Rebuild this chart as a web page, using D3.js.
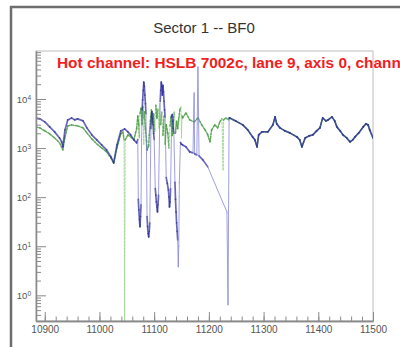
<!DOCTYPE html>
<html><head><meta charset="utf-8">
<script src="https://cdn.jsdelivr.net/npm/d3@7"></script>
<style>body{margin:0;background:#fff}svg{display:block}</style>
</head><body><svg id="c" width="400" height="347"></svg>
<script>
const chartTitle = "Sector 1 -- BF0";
const annotation = "Hot channel: HSLB 7002c, lane 9, axis 0, channel 0";
const xTickValues = [10900, 11000, 11100, 11200, 11300, 11400, 11500];
const yTickValues = [1, 10, 100, 1000, 10000];

const blueX = [10884,10891,10900,10909,10918,10927,10931,10933,10937,10942,10949,10955,10960,10970,10977,10986,10995,11004,11013,11021,11026,11032,11039,11046,11052,11057,11063,11068,
11070,11071,11072,11073,11074,11075,11076,11077,11078,11079,11080,11081,11082,11083,11084,11085,11086,11087,11088,11089,11090,11091,11092,11094,11095,11096,11097,11098,11099,11100,11102,11103,11104,11105,11106,11107,11108,11110,11111,11112,11113,11114,11115,11116,11117,11118,11119,11120,11122,11124,11126,11127,11128,11129,11130,11132,11133,11134,11135,11136,11138,11139,11140,11141,11142,11143,11144,11145,11146,11148,11150,
11152,11158,11165,11171,11173,11174,11178,11180,11182,11189,11198,11233,11235,11237,
11238,11249,11262,11271,11280,11284,11288,11291,11297,11308,11317,11321,11324,11330,11339,11348,11361,11366,11370,11376,11383,11390,11397,11403,11408,11414,11418,11425,11430,11434,11440,11445,11452,11458,11463,11467,11474,11482,11487,11491,11494,11500];
const blueY = [4120,3940,3420,2700,2140,1610,1340,1060,2350,3750,4120,3750,3940,3580,2580,1860,1470,1160,919,662,500,1160,2240,2460,2140,1860,1470,1280,
1500,90,55,35,25,40,70,1500,6000,9600,15000,22000,18000,12000,8000,5000,800,40,25,18,15.5,20,30,2500,4500,5500,4000,3000,2000,1500,150,110,80,63,50,70,110,3000,9000,15000,22000,18000,12000,19000,14000,9000,6000,4300,250,190,140,100,63,80,150,4300,4800,3500,2500,2000,200,90,50,30,20,13.5,3.8,10,200,1300,1200,
1160,1060,837,800,13300,762,727,45100,694,575,414,50,0.64,4120,
4120,3580,2970,2350,1690,1470,1060,1860,2140,2140,2970,4320,3110,2580,2240,2040,1690,1470,1060,1610,1770,1860,2240,2580,4120,3580,3750,4320,3580,2700,2240,1860,1610,1340,1470,1690,2040,2700,3110,2970,2350,1610];

const greenX = [10884,10891,10900,10909,10918,10927,10933,10937,10942,10949,10960,10970,10977,10986,10995,11004,11013,11021,11026,11032,11039,11043,11045,11046,11047,11052,11057,11063,11066,
11068,11070,11072,11073,11074,11076,11078,11079,11080,11081,11082,11084,11086,11087,11088,11090,11091,11093,11095,11097,11099,11101,11103,11105,11107,11109,11110,11112,11114,11116,11118,11120,11122,11125,11127,11129,11131,11133,11135,11137,11139,11141,11143,11145,11147,11149,11150,11151,
11152,11158,11165,11173,11180,11187,11193,11198,11202,11205,11211,11216,11220,11224,11226,11227,11231,11236,
11238,11249,11262,11271,11280,11284,11288,11291,11297,11308,11317,11321,11324,11330,11339,11348,11361,11366,11370,11376,11383,11390,11397,11403,11408,11414,11418,11425,11430,11434,11440,11445,11452,11458,11463,11467,11474,11482,11487,11491,11494,11500];
const greenY = [2700,2580,2240,1950,1610,1280,919,1690,2830,2970,2830,2580,2040,1540,1220,1010,837,632,500,1010,1950,2140,1470,0.2,1470,1860,1690,1470,2040,
2500,4500,3000,1600,5000,6500,3000,7000,4000,1200,5500,2500,1400,900,1000,1100,1800,3500,6000,3200,5000,2200,7500,4000,6500,2500,8000,3000,5500,1800,4500,1200,3000,2000,1000,2800,4500,1800,3500,5500,2000,3500,2500,4000,6000,7000,1600,4500,
4120,5210,3750,3420,4120,2970,2350,1860,1340,2350,2970,2580,3420,3940,360,3750,4120,3750,
4120,3580,2970,2350,1690,1470,1060,1860,2140,2140,2970,4320,3110,2580,2240,2040,1690,1470,1060,1610,1770,1860,2240,2580,4120,3580,3750,4320,3580,2700,2240,1860,1610,1340,1470,1690,2040,2700,3110,2970,2350,1610];

const svg = d3.select("#c");
const L = 36, R = 373, T = 51, B = 321;
const x = d3.scaleLinear().domain([10884, 11500]).range([L, R]);
const y = d3.scaleLog().domain([0.3, 95000]).range([B, T]);

svg.append("rect").attr("width", 400).attr("height", 347).attr("fill", "#fff");
svg.append("path").attr("d", "M11,347V7H400").attr("fill", "none").attr("stroke", "#6e6e6e").attr("stroke-width", 2.5);

svg.append("text").attr("x", 204).attr("y", 33).attr("text-anchor", "middle")
  .attr("font-family", "Liberation Sans, Arial, sans-serif").attr("font-size", 15).attr("fill", "#333")
  .text(chartTitle);

svg.append("rect").attr("x", L).attr("y", T).attr("width", R - L).attr("height", B - T)
  .attr("fill", "none").attr("stroke", "#bdbdbd").attr("stroke-width", 1);

svg.append("clipPath").attr("id", "clip").append("rect").attr("x", L).attr("y", T).attr("width", R - L).attr("height", B - T);
const plot = svg.append("g").attr("clip-path", "url(#clip)");

function drawSeries(xs, ys, dark, light, width, dash, opacity) {
  const pts = xs.map((v, i) => [x(v), y(ys[i])]);
  const segs = d3.pairs(pts);
  const len = d => Math.hypot(d[1][0] - d[0][0], d[1][1] - d[0][1]);
  plot.append("g").selectAll("line").data(segs).join("line")
    .attr("x1", d => d[0][0]).attr("y1", d => d[0][1])
    .attr("x2", d => d[1][0]).attr("y2", d => d[1][1])
    .attr("stroke", d => len(d) > 20 ? light : dark)
    .attr("stroke-width", d => len(d) > 20 ? 1 : width)
    .attr("stroke-dasharray", dash)
    .attr("stroke-opacity", opacity)
    .attr("stroke-linecap", "round");
}
drawSeries(greenX, greenY, "#4f9e48", "#9fd394", 1.5, "2,1.5", 0.9);
drawSeries(blueX, blueY, "#2c2c9c", "#7a7ad6", 1.7, null, 0.72);

const axisColor = "#8a8a8a";
const fontFam = "Liberation Sans, Arial, sans-serif";
const xMinor = d3.range(10900, 11501, 20);
const gxm = svg.append("g").attr("transform", `translate(0,${B})`)
  .call(d3.axisBottom(x).tickValues(xMinor).tickSizeInner(-4.5).tickSizeOuter(0).tickFormat(""));
const gx = svg.append("g").attr("transform", `translate(0,${B})`)
  .call(d3.axisBottom(x).tickValues(xTickValues).tickSizeInner(-9).tickSizeOuter(0).tickPadding(4).tickFormat(d3.format("d")));
gx.selectAll("text").attr("font-family", fontFam).attr("font-size", 10).attr("fill", "#555").attr("dy", "0.8em");

const yMinor = [];
for (let e = -1; e <= 4; e++) for (let k = 2; k <= 9; k++) { const v = k * Math.pow(10, e); if (v >= 0.3 && v <= 95000) yMinor.push(v); }
const gym = svg.append("g").attr("transform", `translate(${L},0)`)
  .call(d3.axisLeft(y).tickValues(yMinor).tickSizeInner(-5).tickSizeOuter(0).tickFormat(""));
const gy = svg.append("g").attr("transform", `translate(${L},0)`)
  .call(d3.axisLeft(y).tickValues(yTickValues).tickSizeInner(-10).tickSizeOuter(0).tickPadding(5).tickFormat(""));
gy.selectAll(".tick").append("text").attr("x", -5).attr("dy", "0.38em").attr("text-anchor", "end")
  .attr("font-family", fontFam).attr("font-size", 9.5).attr("fill", "#555")
  .each(function (d) {
    const t = d3.select(this);
    t.append("tspan").text("10");
    t.append("tspan").attr("dy", "-0.5em").attr("font-size", 6.5).text(Math.round(Math.log10(d)));
  });
[gxm, gx, gym, gy].forEach(g => {
  g.selectAll("line").attr("stroke", axisColor);
  g.select(".domain").attr("stroke", axisColor).attr("stroke-width", 1.3);
});

svg.append("text").attr("x", 57).attr("y", 68)
  .attr("font-family", fontFam).attr("font-size", 15.4).attr("font-weight", "bold").attr("fill", "#f01e1e")
  .text(annotation);
</script></body></html>
